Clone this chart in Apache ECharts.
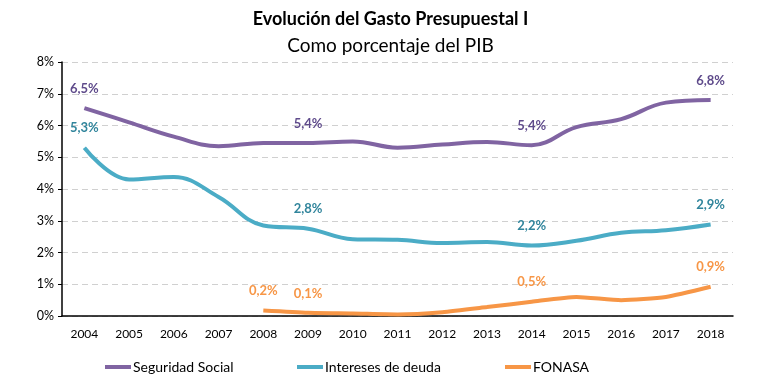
<!DOCTYPE html>
<html><head><meta charset="utf-8">
<script src="https://cdn.jsdelivr.net/npm/echarts@6/dist/echarts.min.js"></script>
<style>html,body{margin:0;padding:0;background:#fff}#c{width:781px;height:391px}</style>
</head><body><div id="c"></div>
<script>
const years = ['2004','2005','2006','2007','2008','2009','2010','2011','2012','2013','2014','2015','2016','2017','2018'];
const seguridadSocial = [6.55, 6.1, 5.65, 5.35, 5.45, 5.45, 5.5, 5.3, 5.4, 5.48, 5.38, 5.95, 6.2, 6.72, 6.8];
const intereses = [5.3, 4.3, 4.38, 3.75, 2.85, 2.75, 2.42, 2.4, 2.3, 2.33, 2.22, 2.37, 2.62, 2.7, 2.88];
const fonasa = [null, null, null, null, 0.17, 0.1, 0.08, 0.05, 0.12, 0.28, 0.45, 0.6, 0.5, 0.6, 0.92];
const ssLabels = ['6,5%','','','','','5,4%','','','','','5,4%','','','','6,8%'];
const intLabels = ['5,3%','','','','','2,8%','','','','','2,2%','','','','2,9%'];
const fonLabels = ['','','','','0,2%','0,1%','','','','','0,5%','','','','0,9%'];
const yTicks = [0,1,2,3,4,5,6,7,8];

const FONT = 'Lato, "Open Sans", sans-serif';
const chart = echarts.init(document.getElementById('c'));
function lbl(arr, color){
  return {show:true, position:'top', distance:13, color:color, fontFamily:FONT, fontSize:13, fontWeight:'bold',
    formatter: p => arr[p.dataIndex] || ''};
}
chart.setOption({
  animation:false,
  title:[
    {text:'Evolución del Gasto Presupuestal I', left:'center', top:5, textStyle:{fontFamily:FONT, fontSize:18, fontWeight:'bold', color:'#000'}},
    {text:'Como porcentaje del PIB', left:'center', top:31, textStyle:{fontFamily:FONT, fontSize:19, fontWeight:'normal', color:'#000'}}
  ],
  grid:{left:62, right:48, top:62, bottom:75},
  legend:[
    {data:['Seguridad Social'], left:100, top:355, itemWidth:26, itemHeight:4, icon:'rect', textStyle:{fontFamily:FONT, fontSize:14, color:'#000', padding:[0,0,0,-3]}},
    {data:['Intereses de deuda'], left:292, top:355, itemWidth:26, itemHeight:4, icon:'rect', textStyle:{fontFamily:FONT, fontSize:14, color:'#000', padding:[0,0,0,-3]}},
    {data:['FONASA'], left:500, top:355, itemWidth:26, itemHeight:4, icon:'rect', textStyle:{fontFamily:FONT, fontSize:14, color:'#000', padding:[0,0,0,-3]}}
  ],
  xAxis:{type:'category', data:years, boundaryGap:true,
    axisLine:{lineStyle:{color:'#000', width:1.5}}, axisTick:{show:false},
    axisLabel:{color:'#000', fontFamily:FONT, fontSize:12, margin:12}},
  yAxis:{type:'value', min:0, max:8, interval:1,
    axisLine:{show:true, lineStyle:{color:'#000', width:1.5}},
    axisTick:{show:true, length:4, lineStyle:{color:'#000'}},
    axisLabel:{color:'#000', fontFamily:FONT, fontSize:12.5, margin:8, formatter: v => yTicks.includes(v) ? v + '%' : ''},
    splitLine:{show:true, lineStyle:{color:'#d0d0d0', type:[6,4], width:1}}},
  series:[
    {name:'Seguridad Social', type:'line', data:seguridadSocial, smooth:0.4, symbol:'circle', symbolSize:0, showSymbol:true,
      lineStyle:{color:'#8064A2', width:4}, itemStyle:{color:'#8064A2'}, label:lbl(ssLabels,'#5F4B8B')},
    {name:'Intereses de deuda', type:'line', data:intereses, smooth:0.4, symbol:'circle', symbolSize:0, showSymbol:true,
      lineStyle:{color:'#4BACC6', width:4}, itemStyle:{color:'#4BACC6'}, label:lbl(intLabels,'#31859C')},
    {name:'FONASA', type:'line', data:fonasa, smooth:0.2, symbol:'circle', symbolSize:0, showSymbol:true,
      lineStyle:{color:'#F79646', width:4}, itemStyle:{color:'#F79646'}, label:lbl(fonLabels,'#F79646')}
  ]
});
</script></body></html>
